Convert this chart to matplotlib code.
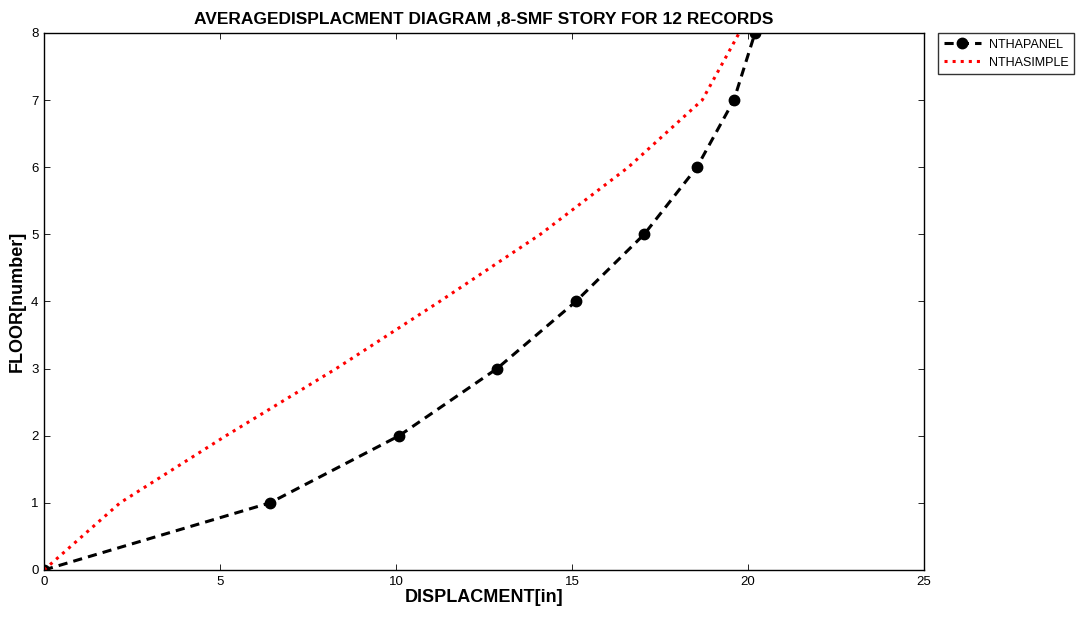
import matplotlib
matplotlib.use("Agg")
import matplotlib.pyplot as plt

plt.rcParams['font.family'] = ['Liberation Sans', 'DejaVu Sans']

floors = [0, 1, 2, 3, 4, 5, 6, 7, 8]
panel_disp = [0, 6.42, 10.09, 12.87, 15.11, 17.05, 18.55, 19.6, 20.2]
simple_disp = [0, 2.16, 5.17, 8.3, 11.24, 14.1, 16.6, 18.7, 19.75]

xticks = [0, 5, 10, 15, 20, 25]
yticks = [0, 1, 2, 3, 4, 5, 6, 7, 8]

fig = plt.figure(figsize=(10.76, 6.19), dpi=100)
ax = fig.add_axes([0.0409, 0.0792, 0.8178, 0.8675])

ax.plot(panel_disp, floors, color='black', linestyle='--', linewidth=2.2,
        marker='o', markersize=7.5, label='NTHAPANEL', dashes=(3, 2))
ax.plot(simple_disp, floors, color='red', linestyle=':', linewidth=2.2,
        label='NTHASIMPLE')

ax.set_xlim(0, 25)
ax.set_ylim(0, 8)
ax.set_xticks(xticks)
ax.set_yticks(yticks)
ax.tick_params(direction='in', top=True, right=True, labelsize=9.5, length=4,
               width=0.6, pad=4)
for s in ax.spines.values():
    s.set_linewidth(1.0)

ax.set_title('AVERAGEDISPLACMENT DIAGRAM ,8-SMF STORY FOR 12 RECORDS',
             fontsize=12.5, fontweight='bold', pad=7)
ax.set_xlabel('DISPLACMENT[in]', fontsize=13, fontweight='bold', labelpad=1)
ax.set_ylabel('FLOOR[number]', fontsize=13, fontweight='bold', labelpad=4)

leg = ax.legend(loc='upper left', bbox_to_anchor=(1.016, 1.0), fontsize=9,
                frameon=True, fancybox=False, edgecolor='black',
                handlelength=3.0, borderpad=0.45, labelspacing=0.5,
                handletextpad=0.6, borderaxespad=0)
leg.get_frame().set_linewidth(1.0)

fig.savefig('out.png', dpi=100)
